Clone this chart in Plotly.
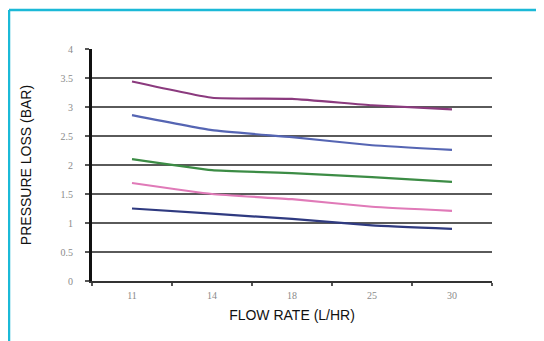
import plotly.graph_objects as go

flow_rates = ["11", "14", "18", "25", "30"]
series_a = [3.44, 3.16, 3.14, 3.03, 2.96]
series_b = [2.86, 2.60, 2.48, 2.34, 2.26]
series_c = [2.10, 1.91, 1.86, 1.79, 1.71]
series_d = [1.69, 1.50, 1.41, 1.28, 1.21]
series_e = [1.25, 1.16, 1.07, 0.96, 0.90]
y_ticks = [0, 0.5, 1, 1.5, 2, 2.5, 3, 3.5, 4]
y_tick_labels = ["0", "0.5", "1", "1.5", "2", "2.5", "3", "3.5", "4"]

colors = ["#8B3A7E", "#5565B3", "#3C8C45", "#E07AB8", "#2F3A80"]
all_series = [series_a, series_b, series_c, series_d, series_e]

fig = go.Figure()
for vals, col in zip(all_series, colors):
    fig.add_trace(go.Scatter(
        x=flow_rates, y=vals, mode="lines",
        line=dict(color=col, width=2.2, shape="spline", smoothing=0.4),
        showlegend=False, hoverinfo="skip"))

# page has an 8px body margin; figure coords = page coords - 8
W, H = 536, 333
L, R, T, B = 84, 52, 41, 60
pw, ph = W - L - R, H - T - B

def px(x):
    return (x - L) / pw

def py(y):
    return (H - B - y) / ph

border = "#1BB9D7"
fig.add_shape(type="line", xref="paper", yref="paper",
              x0=px(1), x1=px(1), y0=py(340), y1=py(2),
              line=dict(color=border, width=2.5))
fig.add_shape(type="line", xref="paper", yref="paper",
              x0=px(1), x1=px(545), y0=py(2), y1=py(2),
              line=dict(color=border, width=2.5))

fig.update_layout(
    width=W, height=H,
    margin=dict(l=L, r=R, t=T, b=B),
    paper_bgcolor="white", plot_bgcolor="white",
    font=dict(family="Liberation Sans, Arial, sans-serif", color="#000"),
)
fig.update_xaxes(
    type="category", range=[-0.5, 4.5],
    showgrid=False, zeroline=False,
    showline=True, linecolor="#333", linewidth=2,
    ticks="outside", tickson="boundaries", ticklen=3, tickcolor="#555", tickwidth=2,
    ticklabelstandoff=4,
    tickfont=dict(size=10, color="#8a8a8a", family="Liberation Serif, serif"),
    title=dict(text="FLOW RATE (L/HR)", standoff=10,
               font=dict(size=14, color="#111",
                         family="Liberation Sans Narrow, Arial Narrow, sans-serif")),
)
fig.update_yaxes(
    range=[0, 4], tickvals=y_ticks, ticktext=y_tick_labels,
    showgrid=True, gridcolor="#5a5a5a", gridwidth=2,
    zeroline=False,
    showline=True, linecolor="#111", linewidth=3,
    ticks="outside", ticklen=4, tickcolor="#555", tickwidth=1.5,
    ticklabelstandoff=10,
    tickfont=dict(size=10, color="#8a8a8a", family="Liberation Serif, serif"),
    title=dict(text="PRESSURE LOSS (BAR)", standoff=26,
               font=dict(size=14, color="#111",
                         family="Liberation Sans Narrow, Arial Narrow, Liberation Sans, sans-serif")),
)

fig.write_html("out.html")
